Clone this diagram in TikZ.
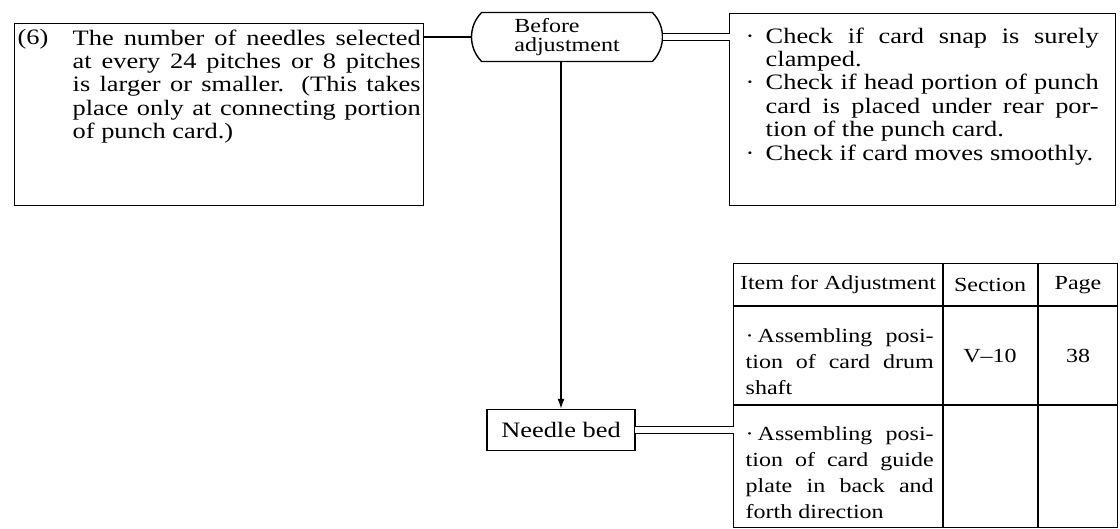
\documentclass[tikz,border=0pt]{standalone}
\usepackage{fontspec}
\setmainfont{Liberation Serif}[FakeStretch=1.2]
\usetikzlibrary{arrows.meta, positioning, shapes.misc}

% bullet with hanging indent for the check lists
\newcommand{\hangdot}[1]{\par\noindent\hangindent=#1\hangafter=1\makebox[#1][l]{·}}

\begin{document}
\begin{tikzpicture}[
    x=0.5pt, y=-0.5pt,
    line width=0.7pt,
    every node/.style={inner sep=0pt},
    box/.style={draw, line width=0.7pt},
    textblock/.style={anchor=north west, align=justify, font=\fontsize{11}{11.7}\selectfont},
    startbox/.style={draw, rounded rectangle, rounded rectangle arc length=90, minimum width=95.5pt, minimum height=24.5pt, font=\fontsize{10}{9.4}\selectfont, align=left},
    pipe/.style={double, double distance=2.8pt, shorten <=-0.35pt, shorten >=-0.35pt},
    arrow/.style={-{Latex[length=5pt,width=3.5pt]}},
    cell/.style={font=\fontsize{10}{13}\selectfont}
]
\useasboundingbox (0,0) rectangle (1120,529);

% ============ TROUBLE AND CHECKS ============
\node[box, anchor=north west, minimum width=204.5pt, minimum height=91pt] (causebox) at (14,23) {};
\node[anchor=north west, font=\fontsize{11}{11.7}\selectfont] (causenum) at (17,29) {(6)};
\node[textblock, text width=174pt] (cause) at (72,29) {The number of needles selected\linebreak at every 24 pitches or 8 pitches\linebreak is larger or smaller. (This takes\linebreak place only at connecting portion\linebreak of punch card.)};

\node[startbox] (before) at (567,37) {Before\\adjustment};

\node[box, anchor=north west, minimum width=193pt, minimum height=96pt] (checkbox) at (729,13) {};
\node[textblock, text width=176.5pt] (check) at (745,19) {\hangdot{10pt}Check if card snap is surely\linebreak clamped.
  \hangdot{10pt}Check if head portion of punch\linebreak card is placed under rear por-\linebreak tion of the punch card.
  \hangdot{10pt}Check if card moves smoothly.};

% ============ ADJUSTMENT ============
\node[box, minimum width=74pt, minimum height=20.5pt, font=\fontsize{11}{13}\selectfont] (needle) at (561,430) {Needle bed};

% table of items
\node[box, anchor=north west, minimum width=192pt, minimum height=132pt] (tbl) at (733,263) {};
\draw (733,306) -- (1117,306);
\draw (733,405) -- (1117,405);
\draw (943,263) -- (943,527);
\draw (1038,263) -- (1038,527);

\node[cell] (hitem) at (838,285) {Item for Adjustment};
\node[cell] (hsec) at (990,285) {Section};
\node[cell] (hpage) at (1078,285) {Page};
\node[cell, anchor=west, text width=94pt, align=justify] (item1) at (745,356) {\hangdot{6pt}Assembling posi-\linebreak tion of card drum\linebreak shaft};
\node[cell] (sec1) at (990,356) {V--10};
\node[cell] (page1) at (1078,356) {38};
\node[cell, anchor=west, text width=94pt, align=justify] (item2) at (745,467) {\hangdot{6pt}Assembling posi-\linebreak tion of card guide\linebreak plate in back and\linebreak forth direction};

% connectors
\draw (before.west) -- (before.west -| causebox.east);
\draw[pipe] (before.east) -- (before.east -| checkbox.west);
\draw[arrow] (needle.north |- before.south) -- (needle.north);
\draw[pipe] (needle.east) -- (needle.east -| tbl.west);

\end{tikzpicture}
\end{document}
